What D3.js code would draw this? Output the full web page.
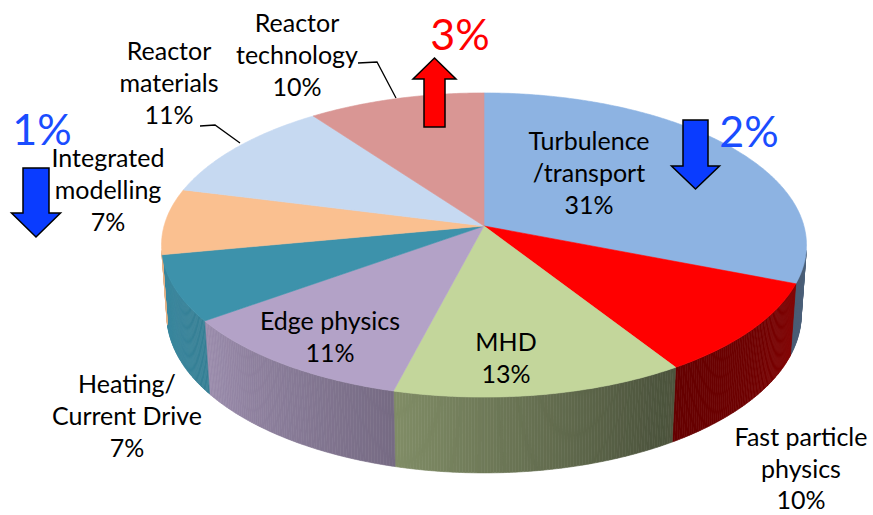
<!DOCTYPE html>
<html>
<head>
<meta charset="utf-8">
<script src="https://cdn.jsdelivr.net/npm/d3@7"></script>
<style>
  html, body { margin: 0; padding: 0; background: #ffffff; }
  svg { display: block; }
  text { font-family: Lato, "Open Sans", sans-serif; }
</style>
</head>
<body>
<svg id="chart" width="873" height="515"></svg>
<script>
// ---------------- data ----------------
const categories = [
  "Turbulence/transport", "Fast particle physics", "MHD", "Edge physics",
  "Heating/Current Drive", "Integrated modelling", "Reactor materials", "Reactor technology"
];
const shares = [31, 10, 13, 11, 7, 7, 11, 10];           // percent
const labelLines = [
  ["Turbulence", "/transport"], ["Fast particle", "physics"], ["MHD"], ["Edge physics"],
  ["Heating/", "Current Drive"], ["Integrated", "modelling"], ["Reactor", "materials"], ["Reactor", "technology"]
];
const changeCategories = ["Reactor technology", "Turbulence/transport", "Integrated modelling"];
const changeValues = ["3%", "2%", "1%"];
const changeDirections = ["up", "down", "down"];

// ---------------- styles / layout ----------------
const colors = ["#8db3e2", "#ff0000", "#c3d69b", "#b3a2c7", "#3d92ab", "#fac090", "#c6d9f1", "#d99694"];
const W = 873, H = 515;
const cam = { cx: 484, cy: 226, alpha: 27.9 * Math.PI / 180, D: 7.07, F: 2262, h: 0.249 };
const labelAnchor = [[589, 150], [801, 446], [506, 351], [330, 330], [127, 393], [108, 167], [169, 60], [297, 32]];
const lineH = 32;
const leaders = [
  { cat: "Reactor technology", pts: [[358, 63], [377, 62], [396, 98]] },
  { cat: "Reactor materials", pts: [[200, 126], [215, 125], [240, 143]] }
];
const changeLayout = [
  { text: [460, 50], color: "#ff0000", fill: "#ff0000", cx: 434.5, top: 58, headBase: 79, bottom: 127, shaftHalf: 10.5, headHalf: 21.5 },
  { text: [749, 147], color: "#1a4dff", fill: "#0a3cff", cx: 695.5, top: 120, headBase: 166, bottom: 189, shaftHalf: 12.5, headHalf: 24 },
  { text: [42, 145], color: "#1a4dff", fill: "#0a3cff", cx: 36, top: 168, headBase: 213, bottom: 237, shaftHalf: 13, headHalf: 24.5 }
];

const svg = d3.select("#chart");

// perspective projection of a point on the disk (theta clockwise from back/top, r radius, level 0=top, 1=bottom)
function proj(theta, r, level) {
  const x3 = r * Math.sin(theta), z3 = -r * Math.cos(theta), y3 = -level * cam.h;
  const u = y3 * Math.cos(cam.alpha) - z3 * Math.sin(cam.alpha);
  const d = cam.D - (y3 * Math.sin(cam.alpha) + z3 * Math.cos(cam.alpha));
  return [cam.cx + cam.F * x3 / d, cam.cy - cam.F * u / d];
}

const arcs = d3.pie().sort(null).value(d => d)(shares);

// visible range of the outer wall
const cVis = Math.acos(-1 / (cam.D * Math.cos(cam.alpha)));
const visA = cVis, visB = 2 * Math.PI - cVis;

// lighting factor of the wall vs angle (degrees)
const shade = d3.scaleLinear()
  .domain([99, 130, 150, 195, 235, 261])
  .range([0.55, 0.43, 0.39, 0.66, 0.87, 0.93])
  .clamp(true);

function darken(col, f) {
  const c = d3.rgb(col);
  return d3.rgb(c.r * f, c.g * f, c.b * f).formatHex();
}

const line = d3.line();
const gWalls = svg.append("g");
const step = Math.PI / 360;

arcs.forEach((a, i) => {
  const s = Math.max(a.startAngle, visA), e = Math.min(a.endAngle, visB);
  if (e <= s) return;
  const n = Math.max(1, Math.ceil((e - s) / step));
  for (let k = 0; k < n; k++) {
    const t0 = s + (e - s) * k / n, t1 = s + (e - s) * (k + 1) / n;
    const tm = (t0 + t1) / 2;
    const col = darken(colors[i], shade(tm * 180 / Math.PI));
    const pts = [proj(t0, 1, 0), proj(t1, 1, 0), proj(t1, 1, 1), proj(t0, 1, 1)];
    gWalls.append("path")
      .attr("d", line(pts) + "Z")
      .attr("fill", col)
      .attr("stroke", col)
      .attr("stroke-width", 0.6);
  }
});

// top faces
const gTop = svg.append("g");
arcs.forEach((a, i) => {
  const n = Math.max(2, Math.ceil((a.endAngle - a.startAngle) / step));
  const pts = [proj(0, 0, 0)];
  for (let k = 0; k <= n; k++) {
    pts.push(proj(a.startAngle + (a.endAngle - a.startAngle) * k / n, 1, 0));
  }
  gTop.append("path")
    .attr("d", line(pts) + "Z")
    .attr("fill", colors[i])
    .attr("stroke", colors[i])
    .attr("stroke-width", 0.6)
    .attr("stroke-linejoin", "round");
});

// leader lines
leaders.forEach(l => {
  svg.append("path")
    .attr("d", line(l.pts))
    .attr("fill", "none")
    .attr("stroke", "#000")
    .attr("stroke-width", 1.3);
});

// labels
const gLab = svg.append("g").attr("font-size", 25).attr("fill", "#000").attr("text-anchor", "middle");
categories.forEach((c, i) => {
  const [x, y] = labelAnchor[i];
  const lines = labelLines[i].concat([shares[i] + "%"]);
  lines.forEach((t, j) => {
    gLab.append("text").attr("x", x).attr("y", y + j * (i === 1 ? 31.5 : lineH)).text(t);
  });
});

// change arrows
changeCategories.forEach((c, i) => {
  const L = changeLayout[i];
  const up = changeDirections[i] === "up";
  let p;
  if (up) {
    p = [[L.cx, L.top], [L.cx + L.headHalf, L.headBase], [L.cx + L.shaftHalf, L.headBase],
         [L.cx + L.shaftHalf, L.bottom], [L.cx - L.shaftHalf, L.bottom], [L.cx - L.shaftHalf, L.headBase],
         [L.cx - L.headHalf, L.headBase]];
  } else {
    p = [[L.cx - L.shaftHalf, L.top], [L.cx + L.shaftHalf, L.top], [L.cx + L.shaftHalf, L.headBase],
         [L.cx + L.headHalf, L.headBase], [L.cx, L.bottom], [L.cx - L.headHalf, L.headBase],
         [L.cx - L.shaftHalf, L.headBase]];
  }
  svg.append("path")
    .attr("d", line(p) + "Z")
    .attr("fill", L.fill)
    .attr("stroke", "#000")
    .attr("stroke-width", 1.5)
    .attr("stroke-linejoin", "miter");
  svg.append("text")
    .attr("x", L.text[0]).attr("y", L.text[1])
    .attr("text-anchor", "middle")
    .attr("font-size", 43)
    .attr("fill", L.color)
    .text(changeValues[i]);
});
</script>
</body>
</html>
